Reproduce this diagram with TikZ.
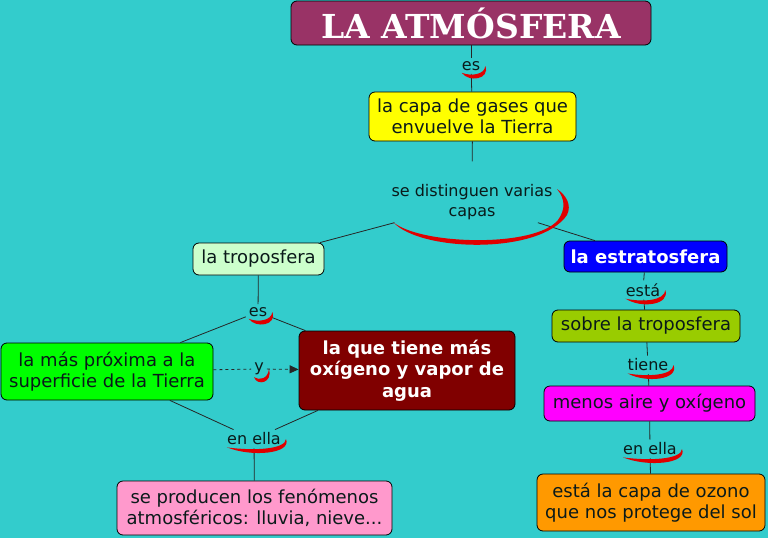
\documentclass[tikz,border=0pt]{standalone}
\usepackage{fontspec}
\setmainfont{DejaVu Sans}
\newfontfamily\titlefont{DejaVu Serif}
\usetikzlibrary{calc,arrows.meta}
\definecolor{bg}{HTML}{33CCCC}
\definecolor{ctitle}{HTML}{993366}
\definecolor{cyellow}{HTML}{FFFF00}
\definecolor{ctropo}{HTML}{CCFFCC}
\definecolor{cestrato}{HTML}{0000FF}
\definecolor{cmas}{HTML}{00FF00}
\definecolor{cmaroon}{HTML}{800000}
\definecolor{cpink}{HTML}{FF99CC}
\definecolor{csobre}{HTML}{99CC00}
\definecolor{cmenos}{HTML}{FF00FF}
\definecolor{corange}{HTML}{FF9900}
\definecolor{ctext}{HTML}{0A1A1A}
\definecolor{cred}{HTML}{E00000}
% crescent under a link label: #1 node, #2 depth, #3 bulge to the right
\newcommand\crsc[3]{%
  \fill[cred] ($(#1.south west)+(3,-1)$)
    .. controls ($(#1.south)+(-2,{#2})$) and ($(#1.south east)+({#3},{0.6*#2})$) ..
    ($(#1.east)+(2,0)$)
    .. controls ($(#1.south east)+({0.2*#3},{0.1*#2})$) and ($(#1.south)+(0,{0.3*#2})$) ..
    cycle;}
\begin{document}
\begin{tikzpicture}[x=1pt,y=-1pt,
  box/.style={draw=black,line width=0.8pt,rounded corners=6pt,align=center,inner sep=2pt,
    text=ctext,font=\fontsize{18}{21.5}\selectfont},
  wbox/.style={box,text=white,font=\bfseries\fontsize{18}{21.5}\selectfont},
  lbl/.style={inner sep=3pt,align=center,text=ctext,font=\fontsize{16}{19.5}\selectfont},
  conn/.style={draw=black!85,line width=0.8pt}]
\fill[bg] (0,0) rectangle (768,538);
\useasboundingbox (0,0) rectangle (768,538);

% boxes
\node[box,fill=ctitle,minimum width=360pt,minimum height=44pt,
  font=\titlefont\bfseries\fontsize{33}{36}\selectfont,text=white] (title) at (471,23) {LA ATMÓSFERA};
\node[box,fill=cyellow,minimum width=207pt,minimum height=49pt] (capa) at (472.5,116.5) {la capa de gases que\\envuelve la Tierra};
\node[box,fill=ctropo,minimum width=131pt,minimum height=32pt] (tropo) at (258.5,259) {la troposfera};
\node[wbox,fill=cestrato,minimum width=163pt,minimum height=31pt] (estrato) at (645.5,256.5) {la estratosfera};
\node[box,fill=cmas,minimum width=212pt,minimum height=57pt] (mas) at (107,371.5) {la más próxima a la\\superficie de la Tierra};
\node[wbox,fill=cmaroon,minimum width=216pt,minimum height=79pt] (oxig) at (407,370.5) {la que tiene más\\oxígeno y vapor de\\agua};
\node[box,fill=cpink,minimum width=275pt,minimum height=54pt] (fenom) at (254.5,508) {se producen los fenómenos\\atmosféricos: lluvia, nieve...};
\node[box,fill=csobre,minimum width=188pt,minimum height=32pt] (sobre) at (646,326) {sobre la troposfera};
\node[box,fill=cmenos,minimum width=211pt,minimum height=35pt] (menos) at (649.5,403.5) {menos aire y oxígeno};
\node[box,fill=corange,minimum width=228pt,minimum height=57pt] (ozono) at (651,502.5) {está la capa de ozono\\que nos protege del sol};

% link labels
\node[lbl] (es1) at (471,66) {es};
\node[lbl] (dist) at (472,202) {se distinguen varias\\capas};
\node[lbl] (es2) at (258,312) {es};
\node[lbl] (yy) at (259,369) {y};
\node[lbl] (ella1) at (254,439) {en ella};
\node[lbl] (esta) at (643,290) {está};
\node[lbl] (tiene) at (648,365) {tiene};
\node[lbl] (ella2) at (650,449) {en ella};

% connectors
\draw[conn] (title) -- (es1);
\draw[conn] (es1) -- (capa);
\draw[conn,shorten >=20pt] (capa) -- (dist);
\draw[conn] (dist) -- (tropo);
\draw[conn] (dist) -- (estrato);
\draw[conn] (tropo) -- (es2);
\draw[conn] (es2) -- (mas);
\draw[conn] (es2) -- (oxig);
\draw[conn,dashed] (mas) -- (yy);
\draw[conn,dashed,-{Triangle[length=9pt,width=8pt]}] (yy) -- (oxig);
\draw[conn] (mas) -- (ella1);
\draw[conn] (oxig) -- (ella1);
\draw[conn] (ella1) -- (fenom);
\draw[conn] (estrato) -- (esta);
\draw[conn] (esta) -- (sobre);
\draw[conn] (sobre) -- (tiene);
\draw[conn] (tiene) -- (menos);
\draw[conn] (menos) -- (ella2);
\draw[conn] (ella2) -- (ozono);

% crescents
\crsc{es1}{9}{7}
\crsc{es2}{9}{7}
\crsc{yy}{8}{6}
\crsc{ella1}{9}{8}
\crsc{esta}{9}{7}
\crsc{tiene}{9}{8}
\crsc{ella2}{9}{8}
\fill[cred] (393,222) .. controls (420,252) and (540,255) .. (567,215)
  .. controls (572,205) and (566,195) .. (557,189)
  .. controls (566,200) and (565,210) .. (558,220)
  .. controls (535,248) and (420,245) .. cycle;
\end{tikzpicture}
\end{document}
